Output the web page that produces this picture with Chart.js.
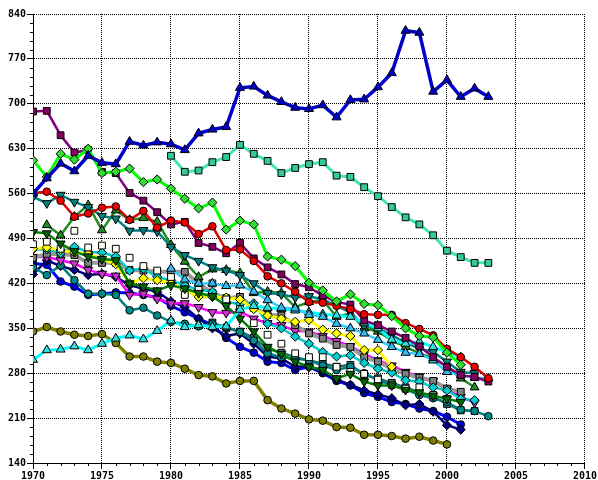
<!DOCTYPE html>
<html>
<head>
<meta charset="utf-8">
<script src="https://cdn.jsdelivr.net/npm/chart.js@4.4.1/dist/chart.umd.min.js"></script>
<style>
  html, body { margin: 0; padding: 0; background: #fff; }
  #wrap { width: 598px; height: 480px; }
</style>
</head>
<body>
<div id="wrap"><canvas id="c" width="598" height="480"></canvas></div>
<script>
// Years 1970..2003
const years = [];
for (let y = 1970; y <= 2003; y++) years.push(y);

const xTicks = [1970, 1975, 1980, 1985, 1990, 1995, 2000, 2005, 2010];
const yTicks = [140, 210, 280, 350, 420, 490, 560, 630, 700, 770, 840];

const _ = null;
const blueTri    = [560,584,607,595,619,608,606,641,635,640,637,628,654,660,664,725,727,713,703,694,692,698,679,706,707,726,748,814,811,719,737,711,724,711];
const aquaSq     = [_,_,_,_,_,_,_,_,_,_,619,594,596,609,617,636,622,611,592,600,606,609,588,586,570,556,539,523,512,495,471,461,452,452];
const purpleSq   = [688,689,651,624,628,594,592,561,549,531,512,516,483,477,467,483,459,445,434,419,414,401,391,387,362,355,345,335,322,305,290,277,274,267];
const limeDia    = [612,586,622,613,630,592,594,599,578,582,568,552,537,546,504,518,512,462,457,447,421,409,392,403,388,386,369,350,338,336,312,293,_,_];
const redCirc    = [561,563,549,524,529,538,540,519,533,507,518,515,497,509,472,473,455,431,420,407,391,390,385,380,372,371,371,358,349,339,318,305,290,272];
const tealInv    = [555,545,558,547,539,525,521,502,503,501,477,464,455,445,440,433,420,405,403,398,400,395,385,375,353,350,339,328,318,313,298,282,280,_];
const forestTri  = [_,511,495,524,542,503,534,519,522,516,480,454,430,442,441,436,405,407,405,383,391,394,368,373,350,345,331,321,311,303,290,272,258,_];
const greenInv   = [500,498,482,470,462,458,456,420,415,409,417,412,405,400,385,365,345,321,310,298,290,285,272,279,267,261,261,254,250,245,240,235,_,_];
const whiteSq    = [481,485,474,502,476,479,474,460,447,440,430,402,410,420,395,380,358,340,326,311,305,305,290,282,279,270,262,256,258,246,240,_,_,_];
const yellowDia  = [474,476,472,468,466,458,450,420,428,425,420,410,399,399,398,395,380,370,365,360,363,348,342,338,316,316,290,_,_,_,_,_,_,_];
const cyanDia    = [473,473,467,477,469,468,462,440,443,430,425,417,410,407,391,388,389,357,350,337,326,313,306,308,296,287,281,269,267,258,253,240,238,_];
const graySq     = [460,466,466,464,452,452,452,441,440,438,438,438,420,405,397,399,382,371,370,355,342,334,324,321,305,298,287,279,273,268,256,251,_,_];
const magentaInv = [461,461,456,451,441,435,432,402,404,396,389,389,383,375,374,376,365,358,355,346,345,338,330,322,310,300,292,282,275,268,255,243,234,_];
const skyTri     = [_,_,_,_,_,_,_,_,_,_,443,426,420,420,416,417,407,394,382,381,371,368,357,350,342,332,321,312,310,300,282,277,273,272];
const tealCirc   = [445,433,448,425,404,404,402,378,382,370,360,357,353,357,352,344,331,311,305,303,300,292,285,290,280,269,261,255,246,241,235,223,221,213];
const navyDia    = [434,456,447,441,433,435,430,417,412,407,392,383,365,350,338,342,326,306,303,290,291,282,270,262,253,247,241,230,232,220,199,192,_,_];
const blueCirc   = [451,449,423,415,402,404,406,405,402,398,385,375,365,355,335,321,312,298,296,285,290,280,268,261,249,243,235,232,225,221,212,200,_,_];
const oliveCirc  = [345,352,345,340,338,341,327,306,306,298,296,287,277,275,264,268,268,238,225,217,208,206,196,195,184,184,182,178,181,175,169,_,_,_];
const cyanTri    = [301,316,317,322,316,326,334,339,333,346,362,352,355,352,353,379,385,382,380,378,375,372,370,368,358,350,332,326,329,321,313,305,_,_];
const dkTealSq   = [_,_,_,_,_,_,_,_,_,_,_,_,_,359,350,345,335,318,312,305,300,295,290,293,277,272,265,258,250,243,232,222,221,_];

function pts(vals) {
  return years.map((y, i) => ({ x: y, y: vals[i] }));
}

// marker sizes per shape
const R = { rect: 4.8, rectRot: 4.6, triangle: 5.2, circle: 3.8 };

function series(label, vals, line, fill, shape, opts) {
  opts = opts || {};
  return {
    label: label,
    data: pts(vals),
    borderColor: line,
    backgroundColor: fill,
    borderWidth: opts.width || 2,
    pointStyle: shape,
    pointRotation: opts.rot || 0,
    pointRadius: opts.r || R[shape],
    pointBackgroundColor: fill,
    pointBorderColor: opts.pb || '#000000',
    pointBorderWidth: 1,
    showLine: opts.noLine ? false : true,
    tension: 0,
    spanGaps: false
  };
}

const datasets = [
  series('blueTri',    blueTri,    '#0000CC', '#0000CC', 'triangle', { width: 3.5 }),
  series('aquaSq',     aquaSq,     '#40E6B8', '#33CC99', 'rect',     { width: 3 }),
  series('limeDia',    limeDia,    '#00FF00', '#33DD33', 'rectRot',  { width: 3 }),
  series('redCirc',    redCirc,    '#DD0000', '#EE0000', 'circle',   { width: 2.5 }),
  series('purpleSq',   purpleSq,   '#800080', '#800060', 'rect',     { width: 2.5 }),
  series('skyTri',     skyTri,     '#33CCFF', '#33BBEE', 'triangle', { width: 2.5 }),
  series('cyanTri',    cyanTri,    '#00FFFF', '#33DDDD', 'triangle', { width: 3 }),
  series('tealInv',    tealInv,    '#008080', '#008080', 'triangle', { width: 2.5, rot: 180 }),
  series('forestTri',  forestTri,  '#228B22', '#228B22', 'triangle', { width: 2.5 }),
  series('greenInv',   greenInv,   '#008000', '#006400', 'triangle', { width: 2.5, rot: 180 }),
  series('whiteSq',    whiteSq,    '#FFFFFF', '#FFFFF4', 'rect',     { noLine: true }),
  series('yellowDia',  yellowDia,  '#FFFF00', '#FFFF00', 'rectRot',  { width: 3 }),
  series('cyanDia',    cyanDia,    '#00CCCC', '#00CED1', 'rectRot',  { width: 2.5 }),
  series('graySq',     graySq,     '#999999', '#808080', 'rect',     { width: 4 }),
  series('magentaInv', magentaInv, '#FF00FF', '#CC33CC', 'triangle', { width: 2.5, rot: 180 }),
  series('tealCirc',   tealCirc,   '#008080', '#008B8B', 'circle',   { width: 2.5 }),
  series('dkTealSq',   dkTealSq,   '#1F7070', '#338888', 'rect',     { width: 2.5 }),
  series('navyDia',    navyDia,    '#000080', '#000080', 'rectRot',  { width: 2.5 }),
  series('blueCirc',   blueCirc,   '#0000FF', '#0000CC', 'circle',   { width: 3 }),
  series('oliveCirc',  oliveCirc,  '#808000', '#808000', 'circle',   { width: 3.5 })
];

// Small outward ticks: every year on x, every 14 units on y
const minorTicks = {
  id: 'minorTicks',
  afterDraw(chart) {
    const ctx = chart.ctx;
    const xs = chart.scales.x, ys = chart.scales.y;
    const area = chart.chartArea;
    ctx.save();
    ctx.strokeStyle = '#000';
    ctx.lineWidth = 1;
    ctx.beginPath();
    for (let v = xs.min; v <= xs.max; v += 1) {
      if (v % 5 === 0) continue;
      const px = Math.round(xs.getPixelForValue(v)) + 0.5;
      ctx.moveTo(px, area.bottom);
      ctx.lineTo(px, area.bottom + 3);
    }
    for (let v = ys.min; v <= ys.max; v += 14) {
      if ((v - ys.min) % 70 === 0) continue;
      const py = Math.round(ys.getPixelForValue(v)) + 0.5;
      ctx.moveTo(area.left, py);
      ctx.lineTo(area.left - 3, py);
    }
    ctx.stroke();
    ctx.restore();
  }
};

const tickFont = { family: 'DejaVu Sans Mono', size: 10, weight: 'bold' };

new Chart(document.getElementById('c'), {
  type: 'line',
  data: { datasets: datasets },
  options: {
    responsive: false,
    animation: false,
    layout: { padding: { left: 0, top: 14, right: 11, bottom: 0 } },
    plugins: { legend: { display: false }, tooltip: { enabled: false } },
    scales: {
      x: {
        type: 'linear',
        min: xTicks[0],
        max: xTicks[xTicks.length - 1],
        afterBuildTicks(scale) { scale.ticks = xTicks.map(v => ({ value: v })); },
        afterFit(scale) { scale.height = 17; },
        ticks: { color: '#000', font: tickFont, padding: 1, maxRotation: 0, autoSkip: false,
                 callback: v => String(v) },
        grid: { color: '#000', lineWidth: 1, tickLength: 6,
                tickColor: '#000', tickBorderDash: [] },
        border: { display: true, color: '#000', width: 1, dash: [1, 1] }
      },
      y: {
        type: 'linear',
        min: yTicks[0],
        max: yTicks[yTicks.length - 1],
        afterBuildTicks(scale) { scale.ticks = yTicks.map(v => ({ value: v })); },
        afterFit(scale) { scale.width = 33; },
        ticks: { color: '#000', font: tickFont, padding: 1, autoSkip: false,
                 callback: v => String(v) },
        grid: { color: '#000', lineWidth: 1, tickLength: 6,
                tickColor: '#000', tickBorderDash: [] },
        border: { display: true, color: '#000', width: 1, dash: [1, 1] }
      }
    }
  },
  plugins: [minorTicks]
});
</script>
</body>
</html>
